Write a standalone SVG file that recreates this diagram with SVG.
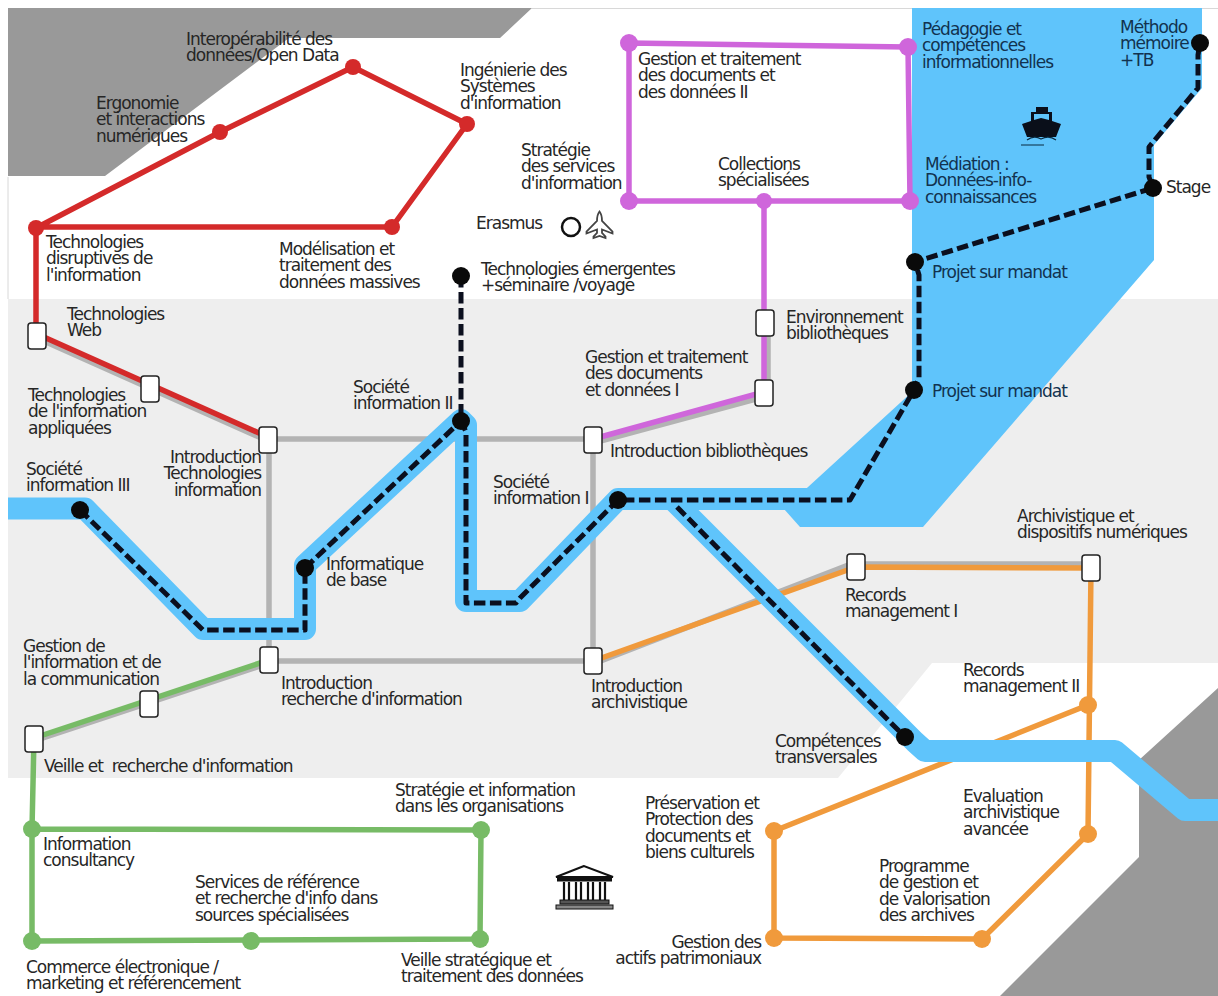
<svg xmlns="http://www.w3.org/2000/svg" width="1218" height="996" viewBox="0 0 1218 996">
<style>
text{font-family:"DejaVu Sans","Liberation Sans",sans-serif;font-size:17px;letter-spacing:-1px;fill:#262626;white-space:pre}
.w{fill:#12324f}
.l{fill:none;stroke-width:5.500;stroke-linejoin:round;stroke-linecap:round}
.gy{stroke:#b3b3b3}.rd{stroke:#d42a2a}.mg{stroke:#cf66db}.gn{stroke:#77bb66}.or{stroke:#f09a3c}
.riv{fill:none;stroke:#5fc4fb;stroke-width:22;stroke-linejoin:round}
.ds{fill:none;stroke:#0b0f1e;stroke-width:5;stroke-dasharray:11.500 4.500;stroke-linejoin:round}
.st{fill:#fff;stroke:#222;stroke-width:1.500}
.k{fill:#0a0a0a}.r{fill:#d42a2a}.m{fill:#cf66db}.g{fill:#77bb66}.o{fill:#f09a3c}
</style>
<rect width="1218" height="996" fill="#fff"/>
<g id="background">
<path d="M8 177V299M532 8.500H1218" fill="none" stroke="#d8d8d8"/>
<path d="M8 299H1218V663H932L838 778H8Z" fill="#eeeeee"/>
<path d="M8 8H532L500 38H289L105 176H8Z" fill="#999"/>
<path d="M1218 688L1139 760V857L1000 996H1218Z" fill="#999"/>
<path d="M912 8H1202V88L1154 145V260L923 527H800L784 509L808 487L912 392Z" fill="#5fc4fb"/>
</g>
<g id="connectors">
<path class="l gy" d="M37 338L268 441M268 439H593M269 439V660M593 439V661M269 661H593M269 663L34 741M593 664L856 562M856 564L1091 564M593 443L764 397M768 393V323"/>
<path class="l rd" d="M36 336V228L220 132L353 67L467 124L392 227H36M37 334L268 437"/>
<path class="l mg" d="M629 43L908 47L910 201H629ZM764 201V393M593 439L764 392"/>
<path class="l gn" d="M34 738L269 660M34 738L32 829L481 830L480 939L32 941V829"/>
<path class="l or" d="M593 661L856 567L1091 568L1088 834L982 939L774 938V831L1088 705"/>
<path class="riv" d="M8 508.500H85L203 629H305V565L461 420L466 425V601H520L618 499H810M672 499L915 742L925 751H1115L1185 810H1218"/>
<path class="ds" d="M80 510L203 630H305V568"/>
<path class="ds" d="M305 568L461 421"/>
<path class="ds" d="M461 276V421L466 432V603H516L520 598L618 500H850L914 390L919 378V275L915 262L1153 188L1149 177V147L1198 88V55L1200 43"/>
<path class="ds" d="M677 507L905 737"/>
</g>
<g id="node-interoperabilite"><circle class="r" cx="353" cy="67" r="8"/><text x="186" y="45">Interopérabilité des<tspan x="186" dy="16.400">données/Open Data</tspan></text></g>
<g id="node-ergonomie"><circle class="r" cx="220" cy="132" r="8"/><text x="96" y="109">Ergonomie<tspan x="96" dy="16.400">et interactions</tspan><tspan x="96" dy="16.400">numériques</tspan></text></g>
<g id="node-ingenierie"><circle class="r" cx="467" cy="124" r="8"/><text x="460" y="76">Ingénierie des<tspan x="460" dy="16.400">Systèmes</tspan><tspan x="460" dy="16.400">d'information</tspan></text></g>
<g id="node-disruptives"><circle class="r" cx="36" cy="228" r="8"/><text x="46" y="248">Technologies<tspan x="46" dy="16.400">disruptives de</tspan><tspan x="46" dy="16.400">l'information</tspan></text></g>
<g id="node-modelisation"><circle class="r" cx="392" cy="227" r="8"/><text x="279" y="255">Modélisation et<tspan x="279" dy="16.400">traitement des</tspan><tspan x="279" dy="16.400">données massives</tspan></text></g>
<g id="node-strategie-services"><circle class="m" cx="629" cy="201" r="9"/><text x="521" y="156">Stratégie<tspan x="521" dy="16.400">des services</tspan><tspan x="521" dy="16.400">d'information</tspan></text></g>
<g id="node-gestion-2"><circle class="m" cx="629" cy="43" r="9"/><text x="638" y="65">Gestion et traitement<tspan x="638" dy="16.400">des documents et</tspan><tspan x="638" dy="16.400">des données II</tspan></text></g>
<g id="node-collections"><circle class="m" cx="764" cy="201" r="8"/><text x="718" y="170">Collections<tspan x="718" dy="16.400">spécialisées</tspan></text></g>
<g id="node-pedagogie"><circle class="m" cx="908" cy="47" r="9"/><text class="w" x="922" y="35">Pédagogie et<tspan x="922" dy="16.400">compétences</tspan><tspan x="922" dy="16.400">informationnelles</tspan></text></g>
<g id="node-mediation"><circle class="m" cx="910" cy="201" r="9"/><text class="w" x="925" y="170">Médiation :<tspan x="925" dy="16.400">Données-info-</tspan><tspan x="925" dy="16.400">connaissances</tspan></text></g>
<g id="node-methodo"><circle class="k" cx="1200" cy="43" r="9"/><text class="w" x="1120" y="33">Méthodo<tspan x="1120" dy="16.400">mémoire</tspan><tspan x="1120" dy="16.400">+TB</tspan></text></g>
<g id="node-stage"><circle class="k" cx="1153" cy="188" r="9"/><text x="1166" y="193">Stage</text></g>
<g id="node-projet-1"><circle class="k" cx="915" cy="262" r="9"/><text class="w" x="932" y="278">Projet sur mandat</text></g>
<g id="node-projet-2"><circle class="k" cx="914" cy="390" r="9"/><text class="w" x="932" y="397">Projet sur mandat</text></g>
<g id="node-erasmus"><circle cx="571" cy="227" r="9" fill="#fff" stroke="#111" stroke-width="2.500"/><path d="M599.500 211.500C597.500 214 597 217 597 221L586.500 231.500V233.500L597 229.500V233L593.500 236.500V238L599.500 236L605.500 238V236.500L602 233V229.500L612.500 233.500V231.500L602 221C602 217 601.500 214 599.500 211.500Z" fill="#fff" stroke="#444" stroke-width="1.800"/><text x="476" y="229">Erasmus</text></g>
<g id="node-emergentes"><circle class="k" cx="461" cy="276" r="9"/><text x="481" y="275">Technologies émergentes<tspan x="481" dy="16.400">+séminaire /voyage</tspan></text></g>
<g id="node-environnement"><rect class="st" x="756" y="310" width="18" height="26" rx="3"/><text x="786" y="323">Environnement<tspan x="786" dy="16.400">bibliothèques</tspan></text></g>
<g id="node-gestion-1"><rect class="st" x="755" y="380" width="18" height="26" rx="3"/><text x="585" y="363">Gestion et traitement<tspan x="585" dy="16.400">des documents</tspan><tspan x="585" dy="16.400">et données I</tspan></text></g>
<g id="node-web"><rect class="st" x="28" y="323" width="18" height="26" rx="3"/><text x="67" y="320">Technologies<tspan x="67" dy="16.400">Web</tspan></text></g>
<g id="node-appliquees"><rect class="st" x="141" y="376" width="18" height="26" rx="3"/><text x="28" y="401">Technologies<tspan x="28" dy="16.400">de l'information</tspan><tspan x="28" dy="16.400">appliquées</tspan></text></g>
<g id="node-intro-techno"><rect class="st" x="259" y="427" width="18" height="26" rx="3"/><text x="261" y="463" text-anchor="end">Introduction<tspan x="261" dy="16.400">Technologies</tspan><tspan x="261" dy="16.400">information</tspan></text></g>
<g id="node-intro-biblio"><rect class="st" x="584" y="427" width="18" height="26" rx="3"/><text x="610" y="457">Introduction bibliothèques</text></g>
<g id="node-societe-2"><circle class="k" cx="461" cy="421" r="9"/><text x="353" y="393">Société<tspan x="353" dy="15.500">information II</tspan></text></g>
<g id="node-societe-1"><circle class="k" cx="618" cy="500" r="9"/><text x="493" y="488">Société<tspan x="493" dy="16.400">information I</tspan></text></g>
<g id="node-societe-3"><circle class="k" cx="80" cy="510" r="9"/><text x="26" y="475">Société<tspan x="26" dy="16.400">information III</tspan></text></g>
<g id="node-informatique"><circle class="k" cx="305" cy="568" r="9"/><text x="326" y="570">Informatique<tspan x="326" dy="16.400">de base</tspan></text></g>
<g id="node-competences"><circle class="k" cx="905" cy="737" r="9"/><text x="775" y="747">Compétences<tspan x="775" dy="16.400">transversales</tspan></text></g>
<g id="node-archivistique-num"><rect class="st" x="1082" y="555" width="18" height="26" rx="3"/><text x="1017" y="522">Archivistique et<tspan x="1017" dy="16.400">dispositifs numériques</tspan></text></g>
<g id="node-records-1"><rect class="st" x="847" y="554" width="18" height="26" rx="3"/><text x="845" y="601">Records<tspan x="845" dy="16.400">management I</tspan></text></g>
<g id="node-records-2"><circle class="o" cx="1088" cy="705" r="9"/><text x="963" y="676">Records<tspan x="963" dy="16.400">management II</tspan></text></g>
<g id="node-gestion-info"><rect class="st" x="140" y="691" width="18" height="26" rx="3"/><text x="23" y="652">Gestion de<tspan x="23" dy="16.400">l'information et de</tspan><tspan x="23" dy="16.400">la communication</tspan></text></g>
<g id="node-intro-recherche"><rect class="st" x="260" y="647" width="18" height="26" rx="3"/><text x="281" y="689">Introduction<tspan x="281" dy="16.400">recherche d'information</tspan></text></g>
<g id="node-intro-archiv"><rect class="st" x="584" y="648" width="18" height="26" rx="3"/><text x="591" y="692">Introduction<tspan x="591" dy="16.400">archivistique</tspan></text></g>
<g id="node-veille"><rect class="st" x="25" y="726" width="18" height="26" rx="3"/><text x="44" y="772">Veille et  recherche d'information</text></g>
<g id="node-strategie-info"><circle class="g" cx="481" cy="830" r="9"/><text x="395" y="796">Stratégie et information<tspan x="395" dy="16.400">dans les organisations</tspan></text></g>
<g id="node-preservation"><circle class="o" cx="774" cy="831" r="9"/><text x="645" y="809">Préservation et<tspan x="645" dy="16.400">Protection des</tspan><tspan x="645" dy="16.400">documents et</tspan><tspan x="645" dy="16.400">biens culturels</tspan></text></g>
<g id="node-evaluation"><circle class="o" cx="1088" cy="834" r="9"/><text x="963" y="802">Evaluation<tspan x="963" dy="16.400">archivistique</tspan><tspan x="963" dy="16.400">avancée</tspan></text></g>
<g id="node-programme"><circle class="o" cx="982" cy="939" r="9"/><text x="879" y="872">Programme<tspan x="879" dy="16.400">de gestion et</tspan><tspan x="879" dy="16.400">de valorisation</tspan><tspan x="879" dy="16.400">des archives</tspan></text></g>
<g id="node-actifs"><circle class="o" cx="774" cy="938" r="9"/><text x="761" y="948" text-anchor="end">Gestion des<tspan x="761" dy="16.400">actifs patrimoniaux</tspan></text></g>
<g id="node-consultancy"><circle class="g" cx="32" cy="829" r="9"/><text x="43" y="850">Information<tspan x="43" dy="16.400">consultancy</tspan></text></g>
<g id="node-services-ref"><circle class="g" cx="251" cy="941" r="9"/><text x="195" y="888">Services de référence<tspan x="195" dy="16.400">et recherche d'info dans</tspan><tspan x="195" dy="16.400">sources spécialisées</tspan></text></g>
<g id="node-veille-strat"><circle class="g" cx="480" cy="939" r="9"/><text x="401" y="966">Veille stratégique et<tspan x="401" dy="16.400">traitement des données</tspan></text></g>
<g id="node-commerce"><circle class="g" cx="32" cy="941" r="9"/><text x="26" y="973">Commerce électronique /<tspan x="26" dy="16.400">marketing et référencement</tspan></text></g>
<g id="icon-ship"><path d="M1031 112H1036V107H1048V112H1052V121L1061 124L1056 137H1027L1022 124L1031 121ZM1034 114V120L1041 118L1049 120V114Z" fill="#0a0f1a"/><path d="M1027 140Q1034 135 1041 139Q1049 135 1056 140M1021 145H1044" fill="none" stroke="#0a2a40" stroke-width="1.200"/></g>
<g id="icon-museum"><path d="M584 866L556 877H613Z" fill="#fff" stroke="#111" stroke-width="2"/><rect x="557" y="878" width="55" height="3.500" fill="#111"/><path d="M564 882V900M569 882V900M576 882V900M581 882V900M588 882V900M593 882V900M600 882V900M605 882V900" stroke="#111" stroke-width="2.200"/><rect x="560" y="900" width="49" height="4" fill="#555" stroke="#111"/><rect x="556" y="905" width="57" height="4" fill="#888" stroke="#111"/></g>
</svg>
